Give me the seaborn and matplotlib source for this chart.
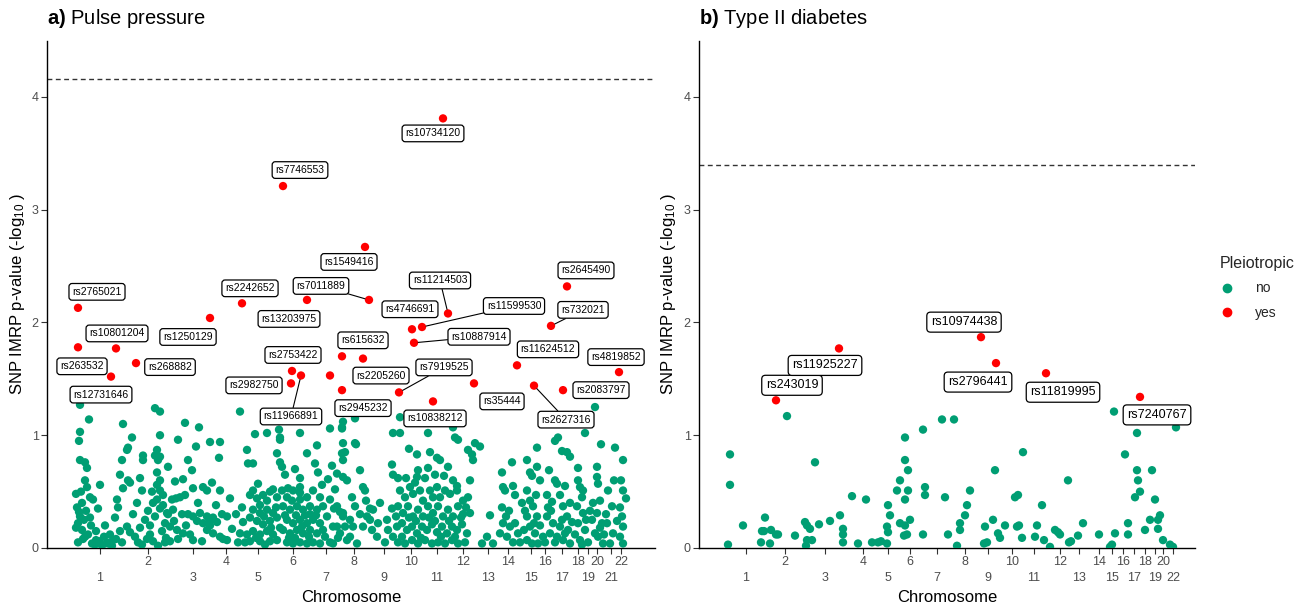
import matplotlib
matplotlib.use("Agg")
import matplotlib.pyplot as plt
from matplotlib.lines import Line2D
import pandas as pd
import seaborn as sns

# ---------------- data ----------------
# x = cumulative genomic position (arbitrary units), y = SNP IMRP p-value (-log10)
# Panel a) Pulse pressure : chromosome centre positions
pp_chrom_pos = [100, 148, 193, 226, 258, 293, 326, 354, 384, 411, 437, 463, 488, 508,
                531, 545, 562, 578, 588, 597, 611, 621]
pp_chrom_lab = [str(i) for i in range(1, 23)]
pp_threshold = 4.16

# non-pleiotropic SNPs (pos, value)
pp_no_chr1_4 = [
    (80, 1.27), (89, 1.14), (80, 1.03), (79, 0.95), (80, 0.78), (85, 0.76), (87, 0.71), (85, 0.60),
    (87, 0.54), (90, 0.45), (93, 0.43), (100, 0.56), (77, 0.36), (80, 0.28), (78, 0.22), (82, 0.16),
    (85, 0.10), (117, 0.43), (118, 0.36), (78, 0.05), (83, 0.08), (88, 0.12), (92, 0.04), (96, 0.07),
    (76, 0.18), (79, 0.32), (84, 0.25), (91, 0.20), (95, 0.03), (99, 0.06), (104, 0.10), (108, 0.04),
    (112, 0.02), (116, 0.08), (120, 0.15), (76, 0.48), (82, 0.40), (110, 0.12), (102, 0.02), (107, 0.05),
    (113, 0.07), (123, 1.10), (132, 0.98), (127, 0.87), (128, 0.89), (122, 0.78), (120, 0.65), (128, 0.60),
    (130, 0.58), (123, 0.53), (143, 0.82), (143, 0.78), (140, 0.62), (142, 0.51), (155, 1.24), (160, 1.21),
    (160, 1.00), (157, 0.87), (155, 0.82), (160, 0.81), (158, 0.78), (157, 0.67), (160, 0.60), (157, 0.56),
    (160, 0.51), (163, 0.47), (168, 0.72), (127, 0.19), (130, 0.14), (135, 0.10), (138, 0.05), (142, 0.03),
    (147, 0.08), (150, 0.12), (153, 0.06), (158, 0.02), (162, 0.15), (165, 0.22), (168, 0.30), (160, 0.35),
    (155, 0.28), (150, 0.20), (145, 0.25), (140, 0.18), (133, 0.30), (166, 0.09), (157, 0.43), (153, 0.40),
    (163, 0.38), (172, 0.43), (176, 0.44), (180, 0.45), (185, 0.47), (167, 0.31), (173, 0.34), (178, 0.96),
    (185, 1.11), (188, 0.78), (175, 0.59), (183, 0.61), (196, 0.90), (199, 1.07), (192, 0.69), (193, 0.53),
    (203, 0.54), (207, 0.51), (212, 0.58), (210, 0.94), (220, 0.94), (219, 0.80), (220, 0.51), (182, 0.30),
    (188, 0.30), (193, 0.28), (200, 0.31), (197, 0.24), (203, 0.22), (207, 0.28), (213, 0.27), (210, 0.24),
    (217, 0.23), (210, 0.20), (207, 0.16), (213, 0.13), (220, 0.10), (223, 0.08), (227, 0.07), (170, 0.19),
    (177, 0.16), (183, 0.13), (190, 0.12), (193, 0.07), (170, 0.06), (178, 0.08), (230, 0.44), (240, 1.21),
    (242, 0.36), (243, 0.23), (227, 0.28), (240, 0.13), (238, 0.05), (232, 0.17),
    (81, 0.50), (86, 0.33), (90, 0.27), (96, 0.15), (98, 0.35), (105, 0.20), (115, 0.27), (122, 0.05),
    (137, 0.40), (148, 0.33), (152, 0.50), (165, 0.05), (174, 0.24), (186, 0.20), (198, 0.40), (202, 0.06),
    (216, 0.38), (222, 0.30), (236, 0.30), (245, 0.05),
]
pp_no_chr5_7 = [
    (247, 0.87), (248, 0.75), (253, 0.75), (253, 0.51), (255, 1.01), (267, 1.02), (250, 0.47), (257, 0.44),
    (260, 0.38), (263, 0.47), (267, 0.42), (270, 0.50), (273, 0.52), (277, 0.45), (253, 0.34), (260, 0.31),
    (267, 0.34), (273, 0.31), (250, 0.27), (257, 0.24), (263, 0.21), (270, 0.24), (277, 0.27), (253, 0.15),
    (260, 0.12), (267, 0.15), (273, 0.12), (280, 0.18), (250, 0.06), (260, 0.06), (270, 0.06), (277, 0.07),
    (247, 0.12), (265, 0.03), (256, 0.09), (279, 1.05), (280, 0.98), (280, 0.96), (277, 0.84), (280, 0.76),
    (282, 0.72), (300, 1.02), (307, 0.84), (317, 0.91), (315, 0.75), (318, 0.67), (300, 0.62), (300, 0.54),
    (300, 0.49), (288, 0.53), (285, 0.65), (295, 0.70), (282, 0.51), (287, 0.45), (293, 0.51), (300, 0.43),
    (307, 0.45), (313, 0.51), (320, 0.45), (283, 0.37), (290, 0.34), (297, 0.37), (303, 0.34), (310, 0.37),
    (317, 0.34), (323, 0.37), (287, 0.25), (293, 0.22), (300, 0.25), (307, 0.22), (313, 0.25), (320, 0.22),
    (283, 0.16), (290, 0.13), (297, 0.16), (303, 0.13), (310, 0.16), (317, 0.13), (323, 0.16), (287, 0.05),
    (293, 0.04), (300, 0.05), (307, 0.04), (313, 0.05), (320, 0.04), (325, 0.10), (295, 0.09), (285, 0.29),
    (305, 0.29), (292, 0.42), (310, 0.30), (330, 1.06), (332, 0.73), (337, 0.66), (343, 0.63), (347, 0.60),
    (330, 0.43), (337, 0.37), (343, 0.31), (350, 0.25), (353, 0.19), (333, 0.19), (340, 0.13), (347, 0.07),
    (330, 0.05), (327, 0.28), (335, 0.52), (338, 0.09),
    (258, 0.57), (264, 0.28), (271, 0.18), (276, 0.36), (289, 0.09), (296, 0.29), (302, 0.19), (309, 0.10),
    (316, 0.29), (322, 0.56), (328, 0.61), (334, 0.35),
]
pp_no_chr8_12 = [
    (342, 1.07), (343, 1.12), (342, 1.06), (355, 1.15), (343, 0.93), (342, 0.84), (345, 0.85), (343, 0.78),
    (356, 0.92), (355, 0.93), (360, 0.69), (363, 0.54), (365, 0.51), (355, 0.37), (340, 0.32), (343, 0.28),
    (337, 0.19), (345, 0.19), (350, 0.10), (370, 0.35), (373, 0.34), (367, 0.28), (370, 0.25), (363, 0.19),
    (372, 0.16), (377, 0.10), (357, 0.04), (333, 0.04), (352, 0.45), (360, 0.30), (387, 0.25), (392, 0.35),
    (388, 0.16), (393, 0.10), (385, 0.05), (380, 0.40), (393, 1.02), (400, 1.02), (400, 1.16), (392, 0.74),
    (393, 0.65), (398, 0.62), (409, 0.88), (417, 0.83), (418, 0.69), (417, 0.63), (428, 1.02), (428, 0.71),
    (437, 0.80), (440, 0.78), (400, 0.51), (405, 0.45), (410, 0.54), (413, 0.48), (420, 0.51), (423, 0.42),
    (430, 0.51), (433, 0.45), (437, 0.54), (440, 0.45), (445, 0.51), (450, 0.48), (457, 0.51), (463, 0.42),
    (468, 0.45), (398, 0.37), (403, 0.31), (408, 0.37), (413, 0.28), (418, 0.34), (423, 0.28), (428, 0.37),
    (433, 0.31), (438, 0.37), (443, 0.28), (448, 0.34), (453, 0.28), (458, 0.37), (463, 0.30), (470, 0.31),
    (397, 0.19), (402, 0.22), (407, 0.16), (412, 0.19), (417, 0.13), (422, 0.19), (427, 0.16), (432, 0.21),
    (437, 0.14), (442, 0.19), (447, 0.13), (452, 0.19), (457, 0.16), (462, 0.21), (467, 0.13), (398, 0.05),
    (405, 0.04), (412, 0.07), (418, 0.04), (425, 0.07), (432, 0.04), (438, 0.05), (445, 0.04), (452, 0.07),
    (458, 0.04), (465, 0.05), (453, 1.07), (455, 0.98), (458, 0.96), (444, 0.64), (453, 0.60), (457, 0.55),
    (468, 0.87), (472, 0.83), (473, 0.78), (475, 0.93), (480, 0.90), (470, 0.60), (462, 1.13), (415, 0.58),
    (425, 0.62), (435, 0.65), (448, 0.72),
    (366, 0.42), (378, 0.22), (396, 0.28), (402, 0.10), (409, 0.27), (416, 0.24), (421, 0.09), (429, 0.27),
    (435, 0.24), (441, 0.10), (449, 0.24), (455, 0.10), (461, 0.27), (466, 0.36), (406, 0.62), (430, 0.85),
]
pp_no_chr13_22 = [
    (490, 0.29), (487, 0.10), (482, 0.04), (493, 0.04), (502, 0.67), (512, 0.76), (503, 0.54), (505, 0.51),
    (502, 0.36), (513, 0.55), (515, 0.47), (503, 0.22), (510, 0.19), (515, 0.22), (500, 0.13), (507, 0.10),
    (513, 0.05), (518, 0.13), (509, 0.33), (527, 0.78), (530, 0.67), (532, 0.64), (537, 0.72), (540, 0.60),
    (537, 0.89), (527, 0.51), (530, 0.42), (533, 0.37), (527, 0.28), (537, 0.28), (530, 0.19), (535, 0.13),
    (527, 0.07), (538, 0.04), (532, 0.04), (524, 0.16), (540, 0.20), (522, 0.40), (536, 0.47), (549, 0.69),
    (555, 0.60), (557, 0.57), (555, 0.95), (547, 0.47), (552, 0.41), (547, 0.28), (553, 0.22), (550, 0.13),
    (545, 0.05), (555, 0.05), (558, 0.98), (548, 0.36), (562, 0.86), (567, 0.85), (570, 0.81), (560, 0.47),
    (563, 0.37), (567, 0.28), (560, 0.19), (568, 0.16), (563, 0.07), (570, 0.04), (565, 0.55), (570, 0.40),
    (562, 0.25), (578, 0.71), (578, 0.60), (580, 0.54), (583, 0.51), (582, 0.45), (585, 1.02), (577, 0.37),
    (583, 0.31), (578, 0.22), (585, 0.16), (580, 0.07), (575, 0.12), (582, 0.03), (595, 1.25), (593, 0.40),
    (592, 0.25), (595, 0.13), (590, 0.33), (588, 0.05), (597, 0.72), (597, 0.63), (598, 0.57), (601, 0.92),
    (600, 0.42), (597, 0.31), (602, 0.22), (598, 0.10), (603, 0.04), (600, 0.18), (615, 0.89), (608, 0.51),
    (612, 0.37), (607, 0.22), (613, 0.13), (610, 0.04), (606, 0.30), (614, 0.60), (623, 0.78), (621, 0.60),
    (623, 0.51), (620, 0.36), (622, 0.28), (623, 0.19), (620, 0.10), (623, 0.04), (626, 0.44),
    (506, 0.28), (520, 0.05), (525, 0.33), (534, 0.22), (543, 0.10), (551, 0.33), (557, 0.10), (565, 0.13),
    (572, 0.23), (586, 0.25), (604, 0.12), (617, 0.24),
]
# pleiotropic SNPs
pp_yes_snp = ["rs2765021", "rs263532", "rs10801204", "rs12731646", "rs268882", "rs1250129",
              "rs2242652", "rs13203975", "rs7746553", "rs2753422", "rs2982750", "rs11966891",
              "rs7011889", "rs1549416", "rs615632", "rs2205260", "rs2945232", "rs7919525",
              "rs10838212", "rs10734120", "rs4746691", "rs11214503", "rs11599530", "rs10887914",
              "rs35444", "rs11624512", "rs2627316", "rs732021", "rs2645490", "rs4819852",
              "rs2083797", ""]
pp_yes_pos = [78, 78, 116, 111, 136, 210, 242, 307, 283, 292, 291, 301, 369, 365, 342, 363, 342,
              399, 433, 443, 412, 448, 422, 414, 474, 517, 534, 551, 567, 619, 563, 330]
pp_yes_val = [2.13, 1.78, 1.77, 1.52, 1.64, 2.04, 2.17, 2.20, 3.21, 1.57, 1.46, 1.53, 2.20, 2.67,
              1.70, 1.68, 1.40, 1.38, 1.30, 3.81, 1.94, 2.08, 1.96, 1.82, 1.46, 1.62, 1.44, 1.97,
              2.32, 1.56, 1.40, 1.53]

# Panel b) Type II diabetes
t2d_chrom_pos = [746, 785, 825, 863, 888, 910, 937, 965, 988, 1012, 1034, 1060, 1079, 1099,
                 1112, 1123, 1134, 1145, 1155, 1163, 1173]
t2d_chrom_lab = [str(i) for i in range(1, 21)] + ["22"]
t2d_threshold = 3.40
t2d_no = [
    (728, 0.03), (730, 0.83), (730, 0.56), (743, 0.20), (762, 0.15), (764, 0.15), (771, 0.16),
    (776, 0.12), (778, 0.12), (761, 0.05), (770, 0.04), (765, 0.27), (787, 1.17), (795, 0.11),
    (805, 0.23), (807, 0.20), (810, 0.17), (807, 0.07), (812, 0.07), (806, 0.02), (815, 0.76),
    (819, 0.21), (830, 0.24), (843, 0.17), (843, 0.12), (843, 0.05), (840, 0.29), (852, 0.46),
    (866, 0.43), (858, 0.04), (872, 0.05), (878, 0.05), (881, 0.06), (887, 0.04), (887, 0.19),
    (888, 0.14), (888, 0.38), (890, 0.29), (897, 0.51), (900, 0.60), (905, 0.98), (905, 0.43),
    (900, 0.22), (905, 0.20), (904, 0.11), (907, 0.12), (905, 0.78), (908, 0.69), (908, 0.51),
    (910, 0.25), (923, 1.05), (923, 0.12), (925, 0.54), (925, 0.47), (942, 1.14), (945, 0.45),
    (948, 0.12), (954, 1.14), (957, 0.02), (960, 0.22), (960, 0.16), (965, 0.29), (967, 0.38),
    (970, 0.51), (984, 0.04), (987, 0.05), (985, 0.19), (993, 0.25), (995, 0.69), (998, 0.13),
    (1000, 0.09), (1005, 0.20), (1015, 0.45), (1018, 0.47), (1017, 0.19), (1019, 0.20),
    (1023, 0.85), (1022, 0.09), (1035, 0.10), (1037, 0.20), (1042, 0.38), (1044, 0.07),
    (1050, 0.01), (1055, 0.16), (1058, 0.14), (1060, 0.12), (1068, 0.60), (1069, 0.05),
    (1071, 0.06), (1078, 0.11), (1083, 0.22), (1099, 0.12), (1110, 0.01), (1115, 0.13),
    (1114, 1.21), (1112, 0.03), (1125, 0.83), (1128, 0.12), (1128, 0.22), (1135, 0.45),
    (1137, 1.02), (1137, 0.69), (1138, 0.60), (1140, 0.50), (1145, 0.16), (1150, 0.25),
    (1152, 0.69), (1155, 0.43), (1158, 0.17), (1163, 0.07), (1158, 0.25), (1160, 0.29),
    (1173, 0.01), (1176, 1.07), (1170, 0.03),
]
t2d_yes_snp = ["rs243019", "rs11925227", "rs10974438", "rs2796441", "rs11819995", "rs7240767"]
t2d_yes_pos = [776, 839, 981, 996, 1046, 1140]
t2d_yes_val = [1.31, 1.77, 1.87, 1.64, 1.55, 1.34]

# ---------------- layout (label placement, pixels) ----------------
pp_label_offsets = [(19, 16), (4, -19), (1, 15), (-10, -18), (34, -4), (-22, -19), (8, 15),
                    (-18, -19), (17, 16), (1, 16), (-37, -2), (-10, -41), (-48, 14), (-16, -15),
                    (21, 16), (18, -17), (21, -18), (45, 25), (2, -17), (-10, -15), (-2, 20),
                    (-8, 33), (92, 21), (65, 6), (28, -18), (31, 16), (32, -34), (32, 16),
                    (19, 16), (-3, 15), (38, 0), (0, 0)]
pp_label_lines = {"rs11966891", "rs7011889", "rs7919525", "rs11214503", "rs11599530",
                  "rs10887914", "rs2627316", "rs732021"}
t2d_label_offsets = [(16, 15), (-14, -17), (-17, 15), (-18, -19), (17, -19), (17, -18)]

GREEN = "#009E73"
RED = "#FF0000"
palette = {"no": GREEN, "yes": RED}

sns.set_theme(style="ticks")
plt.rcParams["font.family"] = ["Liberation Sans", "DejaVu Sans"]
plt.rcParams["mathtext.fontset"] = "custom"
plt.rcParams["mathtext.rm"] = "Liberation Sans"
plt.rcParams["mathtext.bf"] = "Liberation Sans:bold"
plt.rcParams["mathtext.it"] = "Liberation Sans:italic"

W, H = 1311, 608
fig = plt.figure(figsize=(W / 100, H / 100), dpi=100)
ax1 = fig.add_axes([47 / W, 60 / H, 608 / W, 507.4 / H])
ax2 = fig.add_axes([699 / W, 60 / H, 496 / W, 507.4 / H])


def draw_panel(ax, no_pts, yes_pos, yes_val, yes_snp, offsets, lines, thr,
               ticks, ticklabels, xlim, lab_fs, ylab_x):
    df_no = pd.DataFrame(no_pts, columns=["pos", "val"])
    df_no["Pleiotropic"] = "no"
    df_yes = pd.DataFrame({"pos": yes_pos, "val": yes_val, "Pleiotropic": "yes"})
    df = pd.concat([df_no, df_yes], ignore_index=True)
    sns.scatterplot(data=df, x="pos", y="val", hue="Pleiotropic", palette=palette,
                    s=36, linewidth=0, ax=ax, legend=False, zorder=3)
    ax.axhline(thr, color="#333333", ls=(0, (3.5, 2.5)), lw=1.0, zorder=2)
    for name, x, y, (dx, dy) in zip(yes_snp, yes_pos, yes_val, offsets):
        if not name:
            continue
        ap = None
        if name in lines:
            ap = dict(arrowstyle="-", color="black", lw=0.8, shrinkA=0, shrinkB=3)
        ax.annotate(name, xy=(x, y), xytext=(dx, dy), textcoords="offset pixels",
                    ha="center", va="center", fontsize=lab_fs, color="black", zorder=5,
                    bbox=dict(boxstyle="round,pad=0.32,rounding_size=0.3", fc="white",
                              ec="black", lw=0.9),
                    arrowprops=ap)
    ax.set_xlim(*xlim)
    ax.set_ylim(0, 4.5)
    ax.set_yticks([0, 1, 2, 3, 4])
    # alternate chromosome labels over two rows (odd index on upper row, even index lower)
    upper = [(p, t) for i, (p, t) in enumerate(zip(ticks, ticklabels)) if i % 2 == 1]
    lower = [(p, t) for i, (p, t) in enumerate(zip(ticks, ticklabels)) if i % 2 == 0]
    ax.set_xticks([p for p, _ in upper])
    ax.set_xticklabels([t for _, t in upper])
    ax.set_xticks([p for p, _ in lower], minor=True)
    ax.set_xticklabels([t for _, t in lower], minor=True)
    ax.tick_params(axis="both", which="both", length=4, width=0.8, color="#333333",
                   labelcolor="#4D4D4D", labelsize=9, pad=2, bottom=True, left=True)
    ax.tick_params(axis="x", which="minor", pad=13)
    ax.tick_params(axis="y", which="minor", left=False)
    for s in ["top", "right"]:
        ax.spines[s].set_visible(False)
    for s in ["left", "bottom"]:
        ax.spines[s].set_color("black")
        ax.spines[s].set_linewidth(1.0)
    ax.set_xlabel("Chromosome", fontsize=12, color="black")
    ax.set_ylabel("SNP IMRP p-value (-log$_{10}$ )", fontsize=12, color="black")
    ax.xaxis.set_label_coords(0.5, -0.083)
    ax.yaxis.set_label_coords(ylab_x, 0.5)


draw_panel(ax1, pp_no_chr1_4 + pp_no_chr5_7 + pp_no_chr8_12 + pp_no_chr13_22,
           pp_yes_pos, pp_yes_val, pp_yes_snp, pp_label_offsets, pp_label_lines,
           pp_threshold, pp_chrom_pos, pp_chrom_lab, (47, 655), 7.5, -0.033)
draw_panel(ax2, t2d_no, t2d_yes_pos, t2d_yes_val, t2d_yes_snp, t2d_label_offsets, set(),
           t2d_threshold, t2d_chrom_pos, t2d_chrom_lab, (699, 1195), 9, -0.043)

fig.text(47 / W, 1 - 18 / H, r"$\mathbf{a)}$ Pulse pressure", fontsize=14.5,
         ha="left", va="center", color="black")
fig.text(699 / W, 1 - 18 / H, r"$\mathbf{b)}$ Type II diabetes", fontsize=14.5,
         ha="left", va="center", color="black")

handles = [Line2D([], [], ls="", marker="o", ms=6, mfc=c, mec=c) for c in (GREEN, RED)]
leg = fig.legend(handles, ["no", "yes"], title="Pleiotropic", loc="upper left",
                 bbox_to_anchor=(1220 / W, 1 - 256 / H), frameon=False, fontsize=10,
                 title_fontsize=11.5, alignment="left", handlelength=1.0,
                 handletextpad=1.5, labelspacing=0.75, borderaxespad=0, borderpad=0)

fig.savefig("out.png", dpi=100)
